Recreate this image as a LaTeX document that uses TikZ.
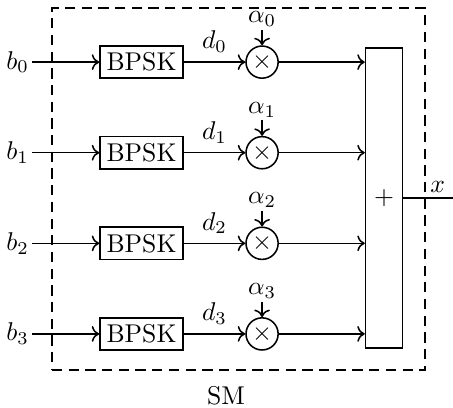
\documentclass[tikz,border=0pt]{standalone}
\usepackage{tikz}
\usetikzlibrary{calc, positioning, arrows.meta}

\begin{document}
\begin{tikzpicture}[
  >=To, semithick,
  mod/.style={draw, rectangle, minimum width=1.136cm, minimum height=0.44cm, inner sep=2pt},
  mult/.style={draw, circle, minimum size=0.44cm, inner sep=0pt},
  adder/.style={draw, rectangle, minimum width=0.466cm, minimum height=4.107cm},
  frame/.style={draw, dashed, dash pattern=on 4pt off 2.5pt, rectangle, minimum width=5.106cm, minimum height=4.955cm},
  inp/.style={inner sep=1pt}
]
\useasboundingbox (0,0) rectangle (6.2,-5.572);

\node[frame] (sm) at (3.265,-2.5875) {};
\node (smlbl) at (3.094,-5.41) {SM};

\node[adder] (sum) at (5.257,-2.71) {$+$};
\coordinate (out) at (6.2,-2.71);
\draw (sum.east) -- (out) node[pos=0.69, above, inner sep=2pt] {$x$};

% row 0
\node[inp] (b0) at (0.24,-0.85) {$b_0$};
\node[mod] (p0) at (1.937,-0.85) {BPSK};
\node[mult] (m0) at (3.587,-0.85) {$\times$};
\node[inner sep=1pt] (a0) at (3.587,-0.26) {$\alpha_0$};
\draw[->] (b0) -- (p0);
\draw[->] (p0) -- (m0) node[midway, above] {$d_0$};
\draw[->] (a0) -- (m0);
\draw[->] (m0) -- (m0 -| sum.west);

% row 1
\node[inp] (b1) at (0.24,-2.09) {$b_1$};
\node[mod] (p1) at (1.937,-2.09) {BPSK};
\node[mult] (m1) at (3.587,-2.09) {$\times$};
\node[inner sep=1pt] (a1) at (3.587,-1.50) {$\alpha_1$};
\draw[->] (b1) -- (p1);
\draw[->] (p1) -- (m1) node[midway, above] {$d_1$};
\draw[->] (a1) -- (m1);
\draw[->] (m1) -- (m1 -| sum.west);

% row 2
\node[inp] (b2) at (0.24,-3.33) {$b_2$};
\node[mod] (p2) at (1.937,-3.33) {BPSK};
\node[mult] (m2) at (3.587,-3.33) {$\times$};
\node[inner sep=1pt] (a2) at (3.587,-2.74) {$\alpha_2$};
\draw[->] (b2) -- (p2);
\draw[->] (p2) -- (m2) node[midway, above] {$d_2$};
\draw[->] (a2) -- (m2);
\draw[->] (m2) -- (m2 -| sum.west);

% row 3
\node[inp] (b3) at (0.24,-4.57) {$b_3$};
\node[mod] (p3) at (1.937,-4.57) {BPSK};
\node[mult] (m3) at (3.587,-4.57) {$\times$};
\node[inner sep=1pt] (a3) at (3.587,-3.98) {$\alpha_3$};
\draw[->] (b3) -- (p3);
\draw[->] (p3) -- (m3) node[midway, above] {$d_3$};
\draw[->] (a3) -- (m3);
\draw[->] (m3) -- (m3 -| sum.west);
\end{tikzpicture}
\end{document}
